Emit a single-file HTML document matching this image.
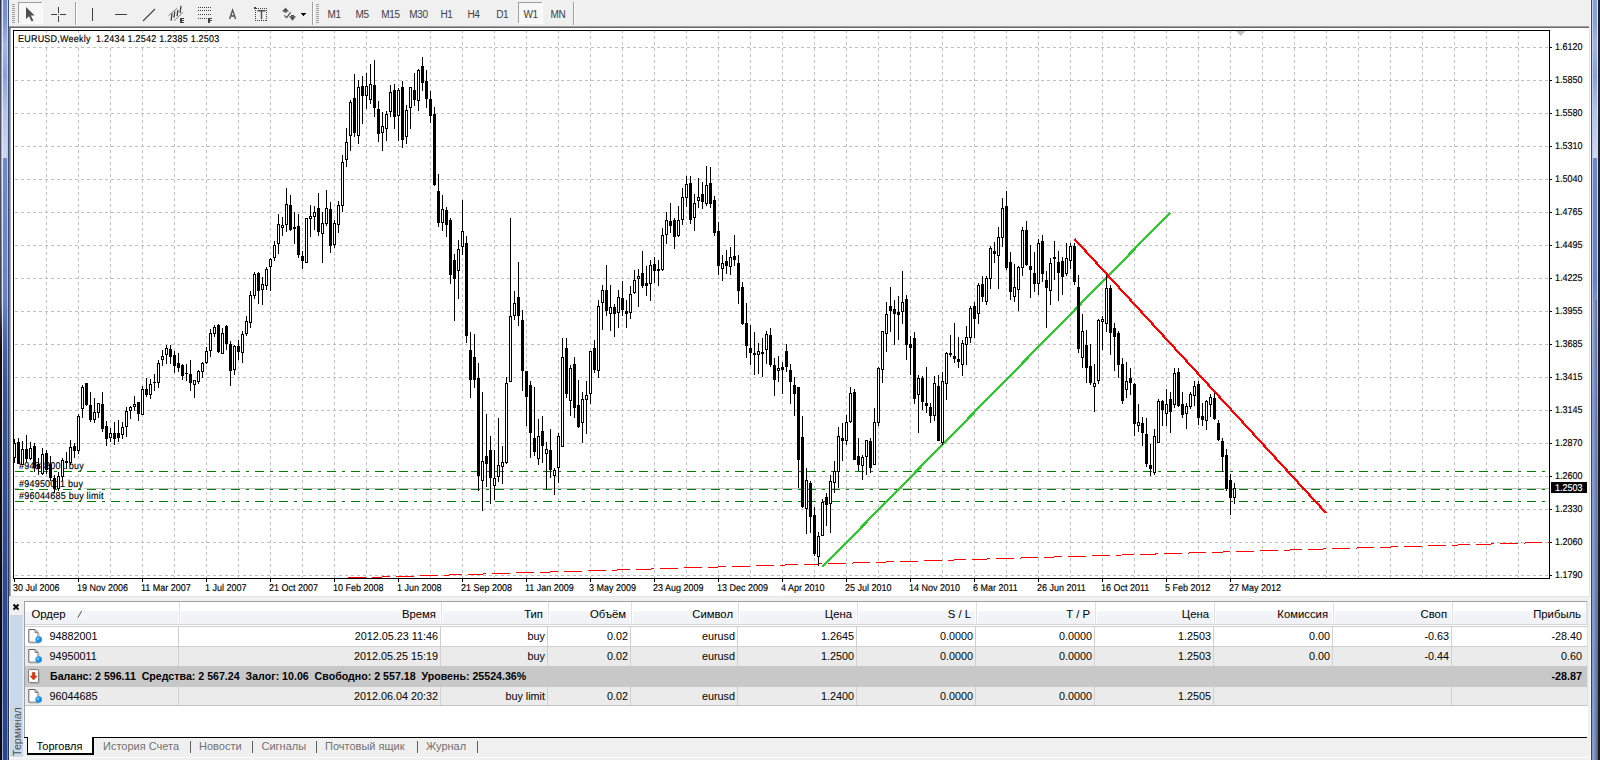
<!DOCTYPE html><html><head><meta charset="utf-8"><title>MT4</title><style>
*{box-sizing:border-box;margin:0;padding:0}
html,body{width:1600px;height:760px;overflow:hidden;background:#f0f0f0;font-family:"Liberation Sans",sans-serif;}
.a{position:absolute}
.t9{font-size:9.9px;line-height:10px;color:#000;white-space:pre;text-rendering:geometricPrecision;transform:translateY(1px) scaleX(0.909);transform-origin:0 0;-webkit-text-stroke:0.15px #000}
.t11{font-size:11px;line-height:13px;color:#404040;white-space:pre}
.tt{font-size:11px;line-height:13px;color:#000;white-space:pre}
.hd{font-size:11.3px;line-height:14px;color:#000;white-space:pre}
.c{font-size:10.8px;line-height:14px;color:#000;white-space:pre}
.r{text-align:right}
svg{position:absolute;left:0;top:0}
</style></head><body>
<div class="a" style="left:0;top:0;width:9px;height:760px;background:linear-gradient(#2a3252 0,#4a506a 60px,#50546a 160px,#3a3e52 300px,#0e0c0c 350px,#0a0a10 100%)"></div>
<div class="a" style="left:1px;top:0;width:1px;height:330px;background:linear-gradient(#7c86a8,#a8aec4 160px,#6c7084 300px,rgba(20,20,24,0))"></div>
<div class="a" style="left:2px;top:0;width:1px;height:760px;background:linear-gradient(#e8ecf8,#e4e8f4 400px,#8c9cd0 600px,#a0b0e0)"></div>
<div class="a" style="left:3px;top:0;width:4px;height:158px;background:linear-gradient(#728ace 0,#7d94d2 22px,#a4b6e2 45px,#8aa0d8 75px,#b4c2e6 110px,#cdd8ee 158px)"></div>
<div class="a" style="left:3px;top:158px;width:4px;height:602px;background:linear-gradient(#6f88c8 0,#6a82c4 140px,#4a64a8 185px,#3a5494 225px,#32498a 412px,#2c4488 100%)"></div>
<div class="a" style="left:7px;top:0;width:1px;height:760px;background:linear-gradient(#d0d8f0,#b4c2ea 300px,#8a9cd0 400px,#7088c0)"></div>
<div class="a" style="left:8px;top:0;width:1px;height:760px;background:linear-gradient(#405080,#344878 300px,#203058)"></div>
<div class="a" style="left:1590px;top:0;width:1px;height:760px;background:#fcfcfc"></div>
<div class="a" style="left:1591px;top:0;width:1px;height:760px;background:linear-gradient(#3a4468,#35466f 300px,#304070)"></div>
<div class="a" style="left:1592px;top:0;width:1px;height:760px;background:linear-gradient(#c4d0ea,#b4c2ea 300px,#8a9cd0 400px,#8498cc)"></div>
<div class="a" style="left:1593px;top:0;width:4px;height:158px;background:linear-gradient(#8aa0d8 0,#8aa0d8 22px,#a4b6e2 45px,#8aa0d8 75px,#b4c2e6 110px,#cdd8ee 158px)"></div>
<div class="a" style="left:1593px;top:158px;width:4px;height:602px;background:linear-gradient(#6f88c8 0,#6a82c4 140px,#6078bc 250px,#6c84c4 412px,#8098d0 100%)"></div>
<div class="a" style="left:1593px;top:300px;width:4px;height:460px;background:linear-gradient(90deg,#8ea1d0,#7e91c3 35%,#6e81b2 70%,#5e6e9a)"></div>
<div class="a" style="left:1593px;top:280px;width:4px;height:20px;background:linear-gradient(rgba(106,130,196,1),#7a90c8)"></div>
<div class="a" style="left:1597px;top:0;width:1px;height:760px;background:linear-gradient(#e0e6f4,#c8d2ec 300px,#7a8cb8 500px,#50608c)"></div>
<div class="a" style="left:1598px;top:0;width:2px;height:760px;background:linear-gradient(#1c2030,#1c2030 300px,#1c1c14)"></div>
<div class="a" style="left:9px;top:0;width:1581px;height:26px;background:#f0f0f0"></div>
<div class="a" style="left:9px;top:26px;width:1580px;height:1px;background:#a0a0a0"></div>
<div class="a" style="left:9px;top:27px;width:1580px;height:1px;background:#696969"></div>
<div class="a" style="left:9px;top:28px;width:1px;height:568px;background:#808080"></div>
<div class="a" style="left:10px;top:28px;width:1px;height:568px;background:#a8a8a8"></div>
<div class="a" style="left:11px;top:28px;width:1578px;height:568px;background:#fff"></div>
<div class="a" style="left:1589px;top:28px;width:1px;height:568px;background:#e3e3e3"></div>
<div class="a" style="left:9px;top:596px;width:1581px;height:1px;background:#e3e3e3"></div>
<svg width="1600" height="28" shape-rendering="crispEdges"><rect x="12" y="4" width="3" height="1" fill="#a0a0a0"/><rect x="12" y="6" width="3" height="1" fill="#a0a0a0"/><rect x="12" y="8" width="3" height="1" fill="#a0a0a0"/><rect x="12" y="10" width="3" height="1" fill="#a0a0a0"/><rect x="12" y="12" width="3" height="1" fill="#a0a0a0"/><rect x="12" y="14" width="3" height="1" fill="#a0a0a0"/><rect x="12" y="16" width="3" height="1" fill="#a0a0a0"/><rect x="12" y="18" width="3" height="1" fill="#a0a0a0"/><rect x="12" y="20" width="3" height="1" fill="#a0a0a0"/><rect x="12" y="22" width="3" height="1" fill="#a0a0a0"/><rect x="316" y="4" width="3" height="1" fill="#a0a0a0"/><rect x="316" y="6" width="3" height="1" fill="#a0a0a0"/><rect x="316" y="8" width="3" height="1" fill="#a0a0a0"/><rect x="316" y="10" width="3" height="1" fill="#a0a0a0"/><rect x="316" y="12" width="3" height="1" fill="#a0a0a0"/><rect x="316" y="14" width="3" height="1" fill="#a0a0a0"/><rect x="316" y="16" width="3" height="1" fill="#a0a0a0"/><rect x="316" y="18" width="3" height="1" fill="#a0a0a0"/><rect x="316" y="20" width="3" height="1" fill="#a0a0a0"/><rect x="316" y="22" width="3" height="1" fill="#a0a0a0"/><rect x="18" y="2" width="25" height="22" fill="#f8f8f8"/><rect x="18" y="2" width="25" height="1" fill="#a0a0a0"/><rect x="18" y="2" width="1" height="22" fill="#a0a0a0"/><rect x="18" y="23" width="25" height="1" fill="#ffffff"/><rect x="42" y="2" width="1" height="22" fill="#ffffff"/><rect x="518" y="2" width="25" height="22" fill="#f8f8f8"/><rect x="518" y="2" width="25" height="1" fill="#a0a0a0"/><rect x="518" y="2" width="1" height="22" fill="#a0a0a0"/><rect x="518" y="23" width="25" height="1" fill="#ffffff"/><rect x="542" y="2" width="1" height="22" fill="#ffffff"/><path d="M26 7 L26 19 L29 16.2 L31.6 21.4 L33.4 20.4 L30.8 15.4 L34.6 15.4 Z" fill="#505050" shape-rendering="auto"/><rect x="51" y="14" width="6" height="1" fill="#404040"/><rect x="60" y="14" width="6" height="1" fill="#404040"/><rect x="58" y="7" width="1" height="6" fill="#404040"/><rect x="58" y="16" width="1" height="6" fill="#404040"/><rect x="58" y="14" width="1" height="1" fill="#909090"/><rect x="75" y="2" width="1" height="23" fill="#a0a0a0"/><rect x="76" y="2" width="1" height="23" fill="#ffffff"/><rect x="312" y="2" width="1" height="23" fill="#a0a0a0"/><rect x="313" y="2" width="1" height="23" fill="#ffffff"/><rect x="573" y="2" width="1" height="23" fill="#a0a0a0"/><rect x="574" y="2" width="1" height="23" fill="#ffffff"/><rect x="92" y="8" width="1" height="13" fill="#404040"/><rect x="115" y="14" width="12" height="1" fill="#404040"/><path d="M143 21 L155 9" stroke="#404040" stroke-width="1.1" fill="none" shape-rendering="auto"/><g stroke="#808080" stroke-width="1" fill="none" shape-rendering="auto"><path d="M168.5 15.7 L177.3 8"/><path d="M174 20.9 L183.2 12"/></g><g stroke="#404040" stroke-width="1.3" fill="none" shape-rendering="auto"><path d="M172 13.3 L171.2 20.6"/><path d="M174.8 11.4 L174 17.6"/><path d="M177.9 9.8 L177.1 16.2"/><path d="M181 5.8 L180.1 13.2"/></g><path d="M180 18h4v1h-2v1h2v1h-2v1h2v1h-4z" fill="#404040"/><path d="M198 7.5 h14" stroke="#404040" stroke-width="1" stroke-dasharray="1 1" fill="none"/><path d="M198 10.5 h14" stroke="#404040" stroke-width="1" stroke-dasharray="1 1" fill="none"/><path d="M198 14.5 h14" stroke="#404040" stroke-width="1" stroke-dasharray="1 1" fill="none"/><path d="M198 18.5 h10" stroke="#404040" stroke-width="1" stroke-dasharray="1 1" fill="none"/><path d="M208 18h4v1h-2v1h1.5v1h-1.5v2h-2z" fill="#404040"/><path d="M229.6 19 L232.6 10 L235.6 19 M230.8 16 H234.4" stroke="#505050" stroke-width="1.3" fill="none" shape-rendering="auto"/><rect x="255.5" y="8.5" width="11" height="12" stroke="#404040" stroke-width="1" stroke-dasharray="1 1" fill="none"/><rect x="254" y="7" width="2" height="2" fill="#404040"/><path d="M257.5 10.7 H265.5 M261.5 10.7 V19.3" stroke="#505050" stroke-width="1.4" fill="none" shape-rendering="auto"/><g shape-rendering="auto"><path d="M282 11.5 L285.5 7.8 L289 11.5 Z" fill="#505050"/><rect x="284" y="11.3" width="3" height="1.3" fill="#505050"/><path d="M289 16.2 L296 16.2 L292.5 20.8 Z" fill="#505050"/><rect x="291" y="15" width="3" height="1.4" fill="#505050"/><path d="M284.3 15.3 L286.6 17.6 L290.7 12.3" stroke="#505050" stroke-width="1.2" fill="none"/></g><path d="M300.5 13 L306.5 13 L303.5 16 Z" fill="#000"/></svg>
<div class="a t11" style="left:327.5px;top:8px;font-size:10px;letter-spacing:-0.4px">M1</div>
<div class="a t11" style="left:355.5px;top:8px;font-size:10px;letter-spacing:-0.4px">M5</div>
<div class="a t11" style="left:381.3px;top:8px;font-size:10px;letter-spacing:-0.4px">M15</div>
<div class="a t11" style="left:409.3px;top:8px;font-size:10px;letter-spacing:-0.4px">M30</div>
<div class="a t11" style="left:440.5px;top:8px;font-size:10px;letter-spacing:-0.4px">H1</div>
<div class="a t11" style="left:467.5px;top:8px;font-size:10px;letter-spacing:-0.4px">H4</div>
<div class="a t11" style="left:496.3px;top:8px;font-size:10px;letter-spacing:-0.4px">D1</div>
<div class="a t11" style="left:523.5px;top:8px;font-size:10px;letter-spacing:-0.4px">W1</div>
<div class="a t11" style="left:550.5px;top:8px;font-size:10px;letter-spacing:-0.4px">MN</div>
<svg width="1600" height="600" shape-rendering="crispEdges"><path d="M15 47.5 H1549" stroke="#c0c0c0" stroke-dasharray="3 3" fill="none"/><path d="M15 80.5 H1549" stroke="#c0c0c0" stroke-dasharray="3 3" fill="none"/><path d="M15 113.5 H1549" stroke="#c0c0c0" stroke-dasharray="3 3" fill="none"/><path d="M15 146.5 H1549" stroke="#c0c0c0" stroke-dasharray="3 3" fill="none"/><path d="M15 179.5 H1549" stroke="#c0c0c0" stroke-dasharray="3 3" fill="none"/><path d="M15 212.5 H1549" stroke="#c0c0c0" stroke-dasharray="3 3" fill="none"/><path d="M15 245.5 H1549" stroke="#c0c0c0" stroke-dasharray="3 3" fill="none"/><path d="M15 278.5 H1549" stroke="#c0c0c0" stroke-dasharray="3 3" fill="none"/><path d="M15 311.5 H1549" stroke="#c0c0c0" stroke-dasharray="3 3" fill="none"/><path d="M15 344.5 H1549" stroke="#c0c0c0" stroke-dasharray="3 3" fill="none"/><path d="M15 377.5 H1549" stroke="#c0c0c0" stroke-dasharray="3 3" fill="none"/><path d="M15 410.5 H1549" stroke="#c0c0c0" stroke-dasharray="3 3" fill="none"/><path d="M15 443.5 H1549" stroke="#c0c0c0" stroke-dasharray="3 3" fill="none"/><path d="M15 476.5 H1549" stroke="#c0c0c0" stroke-dasharray="3 3" fill="none"/><path d="M15 509.5 H1549" stroke="#c0c0c0" stroke-dasharray="3 3" fill="none"/><path d="M15 542.5 H1549" stroke="#c0c0c0" stroke-dasharray="3 3" fill="none"/><path d="M15 575.5 H1549" stroke="#c0c0c0" stroke-dasharray="3 3" fill="none"/><path d="M46.5 30 V578" stroke="#c0c0c0" stroke-dasharray="3 3" fill="none"/><path d="M78.5 30 V578" stroke="#c0c0c0" stroke-dasharray="3 3" fill="none"/><path d="M110.5 30 V578" stroke="#c0c0c0" stroke-dasharray="3 3" fill="none"/><path d="M142.5 30 V578" stroke="#c0c0c0" stroke-dasharray="3 3" fill="none"/><path d="M174.5 30 V578" stroke="#c0c0c0" stroke-dasharray="3 3" fill="none"/><path d="M206.5 30 V578" stroke="#c0c0c0" stroke-dasharray="3 3" fill="none"/><path d="M238.5 30 V578" stroke="#c0c0c0" stroke-dasharray="3 3" fill="none"/><path d="M270.5 30 V578" stroke="#c0c0c0" stroke-dasharray="3 3" fill="none"/><path d="M302.5 30 V578" stroke="#c0c0c0" stroke-dasharray="3 3" fill="none"/><path d="M334.5 30 V578" stroke="#c0c0c0" stroke-dasharray="3 3" fill="none"/><path d="M366.5 30 V578" stroke="#c0c0c0" stroke-dasharray="3 3" fill="none"/><path d="M398.5 30 V578" stroke="#c0c0c0" stroke-dasharray="3 3" fill="none"/><path d="M430.5 30 V578" stroke="#c0c0c0" stroke-dasharray="3 3" fill="none"/><path d="M462.5 30 V578" stroke="#c0c0c0" stroke-dasharray="3 3" fill="none"/><path d="M494.5 30 V578" stroke="#c0c0c0" stroke-dasharray="3 3" fill="none"/><path d="M526.5 30 V578" stroke="#c0c0c0" stroke-dasharray="3 3" fill="none"/><path d="M558.5 30 V578" stroke="#c0c0c0" stroke-dasharray="3 3" fill="none"/><path d="M590.5 30 V578" stroke="#c0c0c0" stroke-dasharray="3 3" fill="none"/><path d="M622.5 30 V578" stroke="#c0c0c0" stroke-dasharray="3 3" fill="none"/><path d="M654.5 30 V578" stroke="#c0c0c0" stroke-dasharray="3 3" fill="none"/><path d="M686.5 30 V578" stroke="#c0c0c0" stroke-dasharray="3 3" fill="none"/><path d="M718.5 30 V578" stroke="#c0c0c0" stroke-dasharray="3 3" fill="none"/><path d="M750.5 30 V578" stroke="#c0c0c0" stroke-dasharray="3 3" fill="none"/><path d="M782.5 30 V578" stroke="#c0c0c0" stroke-dasharray="3 3" fill="none"/><path d="M814.5 30 V578" stroke="#c0c0c0" stroke-dasharray="3 3" fill="none"/><path d="M846.5 30 V578" stroke="#c0c0c0" stroke-dasharray="3 3" fill="none"/><path d="M878.5 30 V578" stroke="#c0c0c0" stroke-dasharray="3 3" fill="none"/><path d="M910.5 30 V578" stroke="#c0c0c0" stroke-dasharray="3 3" fill="none"/><path d="M942.5 30 V578" stroke="#c0c0c0" stroke-dasharray="3 3" fill="none"/><path d="M974.5 30 V578" stroke="#c0c0c0" stroke-dasharray="3 3" fill="none"/><path d="M1006.5 30 V578" stroke="#c0c0c0" stroke-dasharray="3 3" fill="none"/><path d="M1038.5 30 V578" stroke="#c0c0c0" stroke-dasharray="3 3" fill="none"/><path d="M1070.5 30 V578" stroke="#c0c0c0" stroke-dasharray="3 3" fill="none"/><path d="M1102.5 30 V578" stroke="#c0c0c0" stroke-dasharray="3 3" fill="none"/><path d="M1134.5 30 V578" stroke="#c0c0c0" stroke-dasharray="3 3" fill="none"/><path d="M1166.5 30 V578" stroke="#c0c0c0" stroke-dasharray="3 3" fill="none"/><path d="M1198.5 30 V578" stroke="#c0c0c0" stroke-dasharray="3 3" fill="none"/><path d="M1230.5 30 V578" stroke="#c0c0c0" stroke-dasharray="3 3" fill="none"/><path d="M1262.5 30 V578" stroke="#c0c0c0" stroke-dasharray="3 3" fill="none"/><path d="M1294.5 30 V578" stroke="#c0c0c0" stroke-dasharray="3 3" fill="none"/><path d="M1326.5 30 V578" stroke="#c0c0c0" stroke-dasharray="3 3" fill="none"/><path d="M1358.5 30 V578" stroke="#c0c0c0" stroke-dasharray="3 3" fill="none"/><path d="M1390.5 30 V578" stroke="#c0c0c0" stroke-dasharray="3 3" fill="none"/><path d="M1422.5 30 V578" stroke="#c0c0c0" stroke-dasharray="3 3" fill="none"/><path d="M1454.5 30 V578" stroke="#c0c0c0" stroke-dasharray="3 3" fill="none"/><path d="M1486.5 30 V578" stroke="#c0c0c0" stroke-dasharray="3 3" fill="none"/><path d="M1518.5 30 V578" stroke="#c0c0c0" stroke-dasharray="3 3" fill="none"/><rect x="14" y="488" width="1535" height="1" fill="#c0c0c0"/></svg>
<div class="a t9" style="left:19.1px;top:461px;letter-spacing:0.25px;background:#fff">#94882001 buy</div>
<div class="a t9" style="left:19.1px;top:479px;letter-spacing:0.25px;background:#fff">#94950011 buy</div>
<div class="a t9" style="left:19.1px;top:491px;letter-spacing:0.25px;background:#fff">#96044685 buy limit</div>
<svg width="1600" height="600" shape-rendering="crispEdges"><path d="M15 471.5 H1549" stroke="#008000" stroke-dasharray="9 6 3 6" fill="none"/><path d="M15 489.5 H1549" stroke="#008000" stroke-dasharray="9 6 3 6" fill="none"/><path d="M15 501.5 H1549" stroke="#008000" stroke-dasharray="9 6 3 6" fill="none"/><path d="M348.5 578 L1549 542.3" stroke="#ff0000" stroke-width="1" stroke-dasharray="18 6" fill="none"/><path d="M822.5 566.8 L1170 212.8" stroke="#2cc82c" stroke-width="2.2" fill="none"/><path d="M1074.5 239 L1326 513" stroke="#ff0000" stroke-width="2.2" fill="none"/><path d="M14 439h1v24h-1zM13 443h3v15h-3zM18 438h1v26h-1zM17 442h3v22h-3zM22 441h1v24h-1zM21 449h3v16h-3zM26 435h1v27h-1zM25 449h3v10h-3zM30 442h1v18h-1zM29 448h3v11h-3zM34 443h1v29h-1zM33 446h3v22h-3zM38 458h1v17h-1zM37 464h3v5h-3zM42 448h1v27h-1zM41 454h3v20h-3zM46 450h1v24h-1zM45 453h3v17h-3zM50 456h1v25h-1zM49 464h3v14h-3zM54 475h1v18h-1zM53 478h3v11h-3zM58 472h1v19h-1zM57 476h3v13h-3zM62 458h1v23h-1zM61 460h3v17h-3zM66 452h1v17h-1zM65 461h3v2h-3zM70 440h1v25h-1zM69 447h3v16h-3zM74 443h1v15h-1zM73 446h3v5h-3zM78 414h1v40h-1zM77 416h3v35h-3zM82 385h1v33h-1zM81 387h3v22h-3zM86 383h1v23h-1zM85 383h3v22h-3zM90 392h1v30h-1zM89 405h3v15h-3zM94 398h1v25h-1zM93 412h3v8h-3zM98 403h1v15h-1zM97 403h3v10h-3zM102 392h1v40h-1zM101 404h3v25h-3zM106 421h1v25h-1zM105 426h3v13h-3zM110 428h1v14h-1zM109 433h3v5h-3zM114 422h1v23h-1zM113 433h3v6h-3zM118 420h1v22h-1zM117 433h3v5h-3zM122 422h1v17h-1zM121 427h3v8h-3zM126 407h1v30h-1zM125 411h3v16h-3zM130 406h1v13h-1zM129 407h3v4h-3zM134 396h1v15h-1zM133 404h3v3h-3zM138 402h1v19h-1zM137 402h3v12h-3zM142 386h1v29h-1zM141 389h3v26h-3zM146 378h1v19h-1zM145 389h3v6h-3zM150 379h1v20h-1zM149 384h3v11h-3zM154 374h1v17h-1zM153 382h3v1h-3zM158 360h1v28h-1zM157 363h3v20h-3zM162 350h1v16h-1zM161 356h3v4h-3zM166 345h1v19h-1zM165 348h3v7h-3zM170 345h1v19h-1zM169 349h3v8h-3zM174 351h1v22h-1zM173 355h3v11h-3zM178 353h1v19h-1zM177 363h3v5h-3zM182 364h1v16h-1zM181 365h3v11h-3zM186 364h1v17h-1zM185 373h3v1h-3zM190 360h1v31h-1zM189 374h3v9h-3zM194 380h1v18h-1zM193 380h3v5h-3zM198 370h1v14h-1zM197 371h3v11h-3zM202 362h1v16h-1zM201 363h3v9h-3zM206 347h1v17h-1zM205 351h3v12h-3zM210 329h1v28h-1zM209 333h3v18h-3zM214 325h1v12h-1zM213 327h3v7h-3zM218 324h1v29h-1zM217 325h3v27h-3zM222 328h1v26h-1zM221 333h3v21h-3zM226 325h1v25h-1zM225 326h3v18h-3zM230 341h1v45h-1zM229 344h3v27h-3zM234 345h1v30h-1zM233 346h3v24h-3zM238 340h1v20h-1zM237 346h3v6h-3zM242 331h1v32h-1zM241 334h3v19h-3zM246 316h1v20h-1zM245 321h3v13h-3zM250 291h1v37h-1zM249 295h3v28h-3zM254 272h1v27h-1zM253 274h3v22h-3zM258 272h1v32h-1zM257 273h3v18h-3zM262 277h1v28h-1zM261 284h3v6h-3zM266 267h1v23h-1zM265 269h3v17h-3zM270 258h1v33h-1zM269 259h3v8h-3zM274 241h1v20h-1zM273 245h3v13h-3zM278 214h1v40h-1zM277 224h3v20h-3zM282 217h1v19h-1zM281 225h3v3h-3zM286 188h1v44h-1zM285 204h3v21h-3zM290 195h1v36h-1zM289 205h3v25h-3zM294 212h1v32h-1zM293 227h3v2h-3zM298 214h1v44h-1zM297 226h3v29h-3zM302 251h1v18h-1zM301 256h3v5h-3zM306 218h1v45h-1zM305 218h3v45h-3zM310 205h1v32h-1zM309 216h3v3h-3zM314 206h1v24h-1zM313 212h3v5h-3zM318 193h1v43h-1zM317 208h3v24h-3zM322 212h1v51h-1zM321 223h3v11h-3zM326 190h1v36h-1zM325 208h3v16h-3zM330 202h1v51h-1zM329 209h3v37h-3zM334 220h1v28h-1zM333 223h3v22h-3zM338 201h1v32h-1zM337 205h3v20h-3zM342 155h1v57h-1zM341 162h3v44h-3zM346 128h1v39h-1zM345 142h3v18h-3zM350 100h1v51h-1zM349 102h3v34h-3zM354 74h1v63h-1zM353 98h3v35h-3zM358 80h1v64h-1zM357 87h3v49h-3zM362 76h1v48h-1zM361 86h3v10h-3zM366 73h1v36h-1zM365 86h3v10h-3zM370 64h1v40h-1zM369 84h3v16h-3zM374 60h1v57h-1zM373 85h3v23h-3zM378 101h1v41h-1zM377 109h3v25h-3zM382 112h1v39h-1zM381 126h3v7h-3zM386 111h1v30h-1zM385 114h3v15h-3zM390 85h1v32h-1zM389 92h3v20h-3zM394 84h1v45h-1zM393 90h3v27h-3zM398 88h1v53h-1zM397 90h3v26h-3zM402 81h1v67h-1zM401 87h3v53h-3zM406 105h1v39h-1zM405 110h3v27h-3zM410 87h1v42h-1zM409 87h3v21h-3zM414 73h1v33h-1zM413 90h3v10h-3zM418 69h1v42h-1zM417 70h3v31h-3zM422 57h1v34h-1zM421 66h3v17h-3zM426 70h1v38h-1zM425 81h3v18h-3zM430 91h1v32h-1zM429 99h3v17h-3zM434 107h1v79h-1zM433 114h3v71h-3zM438 174h1v53h-1zM437 191h3v32h-3zM442 195h1v36h-1zM441 209h3v14h-3zM446 207h1v30h-1zM445 210h3v15h-3zM450 218h1v66h-1zM449 220h3v55h-3zM454 254h1v67h-1zM453 260h3v19h-3zM458 240h1v59h-1zM457 249h3v22h-3zM462 200h1v55h-1zM461 231h3v16h-3zM466 236h1v107h-1zM465 243h3v93h-3zM470 332h1v66h-1zM469 350h3v30h-3zM474 334h1v54h-1zM473 357h3v23h-3zM478 363h1v128h-1zM477 378h3v98h-3zM482 392h1v119h-1zM481 461h3v20h-3zM486 414h1v73h-1zM485 456h3v8h-3zM490 436h1v68h-1zM489 450h3v28h-3zM494 450h1v50h-1zM493 478h3v8h-3zM498 418h1v64h-1zM497 465h3v12h-3zM502 446h1v38h-1zM501 462h3v5h-3zM506 377h1v87h-1zM505 383h3v80h-3zM510 218h1v164h-1zM509 316h3v66h-3zM514 291h1v29h-1zM513 303h3v13h-3zM518 262h1v64h-1zM517 297h3v19h-3zM522 310h1v81h-1zM521 320h3v51h-3zM526 371h1v55h-1zM525 371h3v26h-3zM530 381h1v77h-1zM529 385h3v48h-3zM534 387h1v69h-1zM533 438h3v14h-3zM538 419h1v46h-1zM537 436h3v23h-3zM542 416h1v47h-1zM541 431h3v15h-3zM546 442h1v47h-1zM545 449h3v5h-3zM550 429h1v49h-1zM549 450h3v20h-3zM554 468h1v27h-1zM553 470h3v6h-3zM558 433h1v50h-1zM557 436h3v32h-3zM562 338h1v109h-1zM561 357h3v90h-3zM566 338h1v60h-1zM565 348h3v46h-3zM570 365h1v51h-1zM569 368h3v33h-3zM574 357h1v61h-1zM573 364h3v44h-3zM578 380h1v48h-1zM577 405h3v22h-3zM582 392h1v51h-1zM581 399h3v24h-3zM586 381h1v53h-1zM585 395h3v5h-3zM590 351h1v53h-1zM589 351h3v43h-3zM594 340h1v33h-1zM593 348h3v22h-3zM598 300h1v78h-1zM597 306h3v65h-3zM602 285h1v45h-1zM601 290h3v13h-3zM606 265h1v51h-1zM605 290h3v21h-3zM610 285h1v46h-1zM609 307h3v7h-3zM614 304h1v33h-1zM613 307h3v7h-3zM618 290h1v38h-1zM617 297h3v16h-3zM622 281h1v35h-1zM621 298h3v12h-3zM626 300h1v28h-1zM625 311h3v3h-3zM630 286h1v33h-1zM629 294h3v19h-3zM634 270h1v24h-1zM633 280h3v13h-3zM638 269h1v38h-1zM637 276h3v3h-3zM642 251h1v37h-1zM641 273h3v13h-3zM646 266h1v30h-1zM645 283h3v3h-3zM650 260h1v41h-1zM649 265h3v19h-3zM654 257h1v26h-1zM653 264h3v7h-3zM658 260h1v26h-1zM657 269h3v2h-3zM662 228h1v43h-1zM661 235h3v35h-3zM666 212h1v32h-1zM665 220h3v15h-3zM670 203h1v30h-1zM669 221h3v5h-3zM674 218h1v31h-1zM673 220h3v17h-3zM678 206h1v31h-1zM677 220h3v16h-3zM682 188h1v37h-1zM681 197h3v23h-3zM686 176h1v31h-1zM685 184h3v14h-3zM690 176h1v48h-1zM689 183h3v37h-3zM694 194h1v37h-1zM693 203h3v15h-3zM698 178h1v30h-1zM697 197h3v4h-3zM702 182h1v27h-1zM701 194h3v8h-3zM706 166h1v40h-1zM705 185h3v19h-3zM710 167h1v41h-1zM709 183h3v21h-3zM714 196h1v40h-1zM713 200h3v33h-3zM718 222h1v53h-1zM717 231h3v35h-3zM722 255h1v26h-1zM721 263h3v6h-3zM726 250h1v24h-1zM725 261h3v5h-3zM730 247h1v28h-1zM729 257h3v10h-3zM734 235h1v31h-1zM733 256h3v4h-3zM738 255h1v49h-1zM737 263h3v28h-3zM742 282h1v43h-1zM741 287h3v37h-3zM746 303h1v55h-1zM745 323h3v23h-3zM750 325h1v40h-1zM749 348h3v5h-3zM754 332h1v43h-1zM753 353h3v2h-3zM758 343h1v31h-1zM757 351h3v4h-3zM762 338h1v39h-1zM761 352h3v2h-3zM766 331h1v33h-1zM765 334h3v16h-3zM770 328h1v39h-1zM769 335h3v30h-3zM774 358h1v38h-1zM773 365h3v15h-3zM778 356h1v26h-1zM777 368h3v3h-3zM782 362h1v32h-1zM781 367h3v3h-3zM786 344h1v28h-1zM785 351h3v16h-3zM790 364h1v40h-1zM789 370h3v12h-3zM794 377h1v39h-1zM793 385h3v9h-3zM798 387h1v101h-1zM797 387h3v73h-3zM802 416h1v92h-1zM801 437h3v70h-3zM806 468h1v66h-1zM805 480h3v29h-3zM810 481h1v52h-1zM809 483h3v34h-3zM814 507h1v49h-1zM813 515h3v39h-3zM818 532h1v34h-1zM817 536h3v21h-3zM822 499h1v37h-1zM821 502h3v34h-3zM826 493h1v33h-1zM825 497h3v8h-3zM830 475h1v58h-1zM829 481h3v23h-3zM834 461h1v32h-1zM833 471h3v12h-3zM838 427h1v61h-1zM837 436h3v36h-3zM842 423h1v38h-1zM841 438h3v3h-3zM846 415h1v30h-1zM845 422h3v19h-3zM850 387h1v36h-1zM849 393h3v29h-3zM854 389h1v71h-1zM853 392h3v68h-3zM858 438h1v33h-1zM857 456h3v9h-3zM862 455h1v25h-1zM861 457h3v9h-3zM866 440h1v35h-1zM865 440h3v17h-3zM870 438h1v35h-1zM869 441h3v27h-3zM874 408h1v57h-1zM873 422h3v43h-3zM878 367h1v59h-1zM877 368h3v55h-3zM882 331h1v52h-1zM881 331h3v39h-3zM886 302h1v50h-1zM885 314h3v20h-3zM890 287h1v45h-1zM889 306h3v5h-3zM894 300h1v45h-1zM893 309h3v5h-3zM898 296h1v44h-1zM897 312h3v3h-3zM902 271h1v53h-1zM901 302h3v10h-3zM906 295h1v65h-1zM905 299h3v46h-3zM910 336h1v39h-1zM909 344h3v4h-3zM914 332h1v72h-1zM913 338h3v61h-3zM918 375h1v58h-1zM917 378h3v17h-3zM922 376h1v34h-1zM921 378h3v24h-3zM926 367h1v46h-1zM925 403h3v3h-3zM930 403h1v20h-1zM929 407h3v9h-3zM934 376h1v45h-1zM933 383h3v33h-3zM938 375h1v66h-1zM937 386h3v55h-3zM942 372h1v73h-1zM941 381h3v62h-3zM946 352h1v48h-1zM945 353h3v31h-3zM950 335h1v22h-1zM949 353h3v2h-3zM954 323h1v40h-1zM953 356h3v3h-3zM958 337h1v31h-1zM957 359h3v3h-3zM962 340h1v36h-1zM961 343h3v22h-3zM966 326h1v39h-1zM965 337h3v8h-3zM970 306h1v37h-1zM969 308h3v30h-3zM974 302h1v36h-1zM973 306h3v13h-3zM978 283h1v41h-1zM977 285h3v29h-3zM982 276h1v26h-1zM981 284h3v13h-3zM986 276h1v29h-1zM985 278h3v24h-3zM990 246h1v43h-1zM989 248h3v31h-3zM994 242h1v21h-1zM993 251h3v3h-3zM998 227h1v62h-1zM997 237h3v19h-3zM1002 198h1v49h-1zM1001 208h3v30h-3zM1006 191h1v79h-1zM1005 206h3v62h-3zM1010 252h1v48h-1zM1009 262h3v30h-3zM1014 264h1v38h-1zM1013 287h3v10h-3zM1018 266h1v45h-1zM1017 267h3v23h-3zM1022 227h1v49h-1zM1021 230h3v38h-3zM1026 221h1v45h-1zM1025 230h3v35h-3zM1030 245h1v53h-1zM1029 266h3v4h-3zM1034 252h1v40h-1zM1033 273h3v11h-3zM1038 239h1v56h-1zM1037 243h3v41h-3zM1042 235h1v47h-1zM1041 241h3v33h-3zM1046 271h1v57h-1zM1045 280h3v8h-3zM1050 258h1v47h-1zM1049 263h3v28h-3zM1054 241h1v39h-1zM1053 257h3v2h-3zM1058 251h1v50h-1zM1057 262h3v11h-3zM1062 257h1v38h-1zM1061 261h3v16h-3zM1066 243h1v33h-1zM1065 258h3v16h-3zM1070 243h1v26h-1zM1069 246h3v15h-3zM1074 243h1v42h-1zM1073 246h3v36h-3zM1078 275h1v78h-1zM1077 287h3v62h-3zM1082 314h1v54h-1zM1081 331h3v27h-3zM1086 330h1v53h-1zM1085 345h3v23h-3zM1090 344h1v41h-1zM1089 366h3v17h-3zM1094 364h1v48h-1zM1093 383h3v4h-3zM1098 319h1v65h-1zM1097 320h3v61h-3zM1102 316h1v34h-1zM1101 319h3v3h-3zM1106 275h1v57h-1zM1105 288h3v36h-3zM1110 285h1v70h-1zM1109 288h3v45h-3zM1114 323h1v48h-1zM1113 328h3v9h-3zM1118 331h1v47h-1zM1117 333h3v32h-3zM1122 358h1v46h-1zM1121 364h3v37h-3zM1126 362h1v36h-1zM1125 381h3v9h-3zM1130 368h1v27h-1zM1129 378h3v5h-3zM1134 383h1v53h-1zM1133 384h3v40h-3zM1138 404h1v28h-1zM1137 422h3v4h-3zM1142 417h1v29h-1zM1141 423h3v10h-3zM1146 418h1v49h-1zM1145 434h3v30h-3zM1150 444h1v32h-1zM1149 465h3v4h-3zM1154 429h1v46h-1zM1153 436h3v37h-3zM1158 399h1v44h-1zM1157 401h3v42h-3zM1162 400h1v26h-1zM1161 401h3v9h-3zM1166 389h1v37h-1zM1165 404h3v10h-3zM1170 392h1v41h-1zM1169 399h3v13h-3zM1174 368h1v40h-1zM1173 373h3v32h-3zM1178 368h1v39h-1zM1177 372h3v34h-3zM1182 392h1v26h-1zM1181 404h3v11h-3zM1186 403h1v26h-1zM1185 406h3v8h-3zM1190 392h1v17h-1zM1189 394h3v13h-3zM1194 381h1v25h-1zM1193 386h3v10h-3zM1198 381h1v44h-1zM1197 384h3v34h-3zM1202 403h1v23h-1zM1201 416h3v4h-3zM1206 400h1v30h-1zM1205 401h3v20h-3zM1210 394h1v23h-1zM1209 397h3v8h-3zM1214 393h1v27h-1zM1213 398h3v21h-3zM1218 420h1v21h-1zM1217 423h3v17h-3zM1222 438h1v34h-1zM1221 441h3v16h-3zM1226 449h1v42h-1zM1225 455h3v34h-3zM1230 474h1v41h-1zM1229 480h3v18h-3zM1234 483h1v21h-1zM1233 488h3v10h-3z" fill="#000"/><path d="M14 444h1v13h-1zM22 450h1v14h-1zM30 449h1v9h-1zM42 455h1v18h-1zM58 477h1v11h-1zM62 461h1v15h-1zM70 448h1v14h-1zM78 417h1v33h-1zM82 388h1v20h-1zM94 413h1v6h-1zM98 404h1v8h-1zM110 434h1v3h-1zM122 428h1v6h-1zM126 412h1v14h-1zM130 408h1v2h-1zM134 405h1v1h-1zM142 390h1v24h-1zM150 385h1v9h-1zM158 364h1v18h-1zM162 357h1v2h-1zM166 349h1v5h-1zM194 381h1v3h-1zM198 372h1v9h-1zM202 364h1v7h-1zM206 352h1v10h-1zM210 334h1v16h-1zM214 328h1v5h-1zM222 334h1v19h-1zM234 347h1v22h-1zM242 335h1v17h-1zM246 322h1v11h-1zM250 296h1v26h-1zM254 275h1v20h-1zM262 285h1v4h-1zM266 270h1v15h-1zM270 260h1v6h-1zM274 246h1v11h-1zM278 225h1v18h-1zM282 226h1v1h-1zM286 205h1v19h-1zM306 219h1v43h-1zM310 217h1v1h-1zM314 213h1v3h-1zM322 224h1v9h-1zM326 209h1v14h-1zM334 224h1v20h-1zM338 206h1v18h-1zM342 163h1v42h-1zM346 143h1v16h-1zM350 103h1v32h-1zM358 88h1v47h-1zM366 87h1v8h-1zM370 85h1v14h-1zM382 127h1v5h-1zM386 115h1v13h-1zM390 93h1v18h-1zM398 91h1v24h-1zM406 111h1v25h-1zM410 88h1v19h-1zM418 71h1v29h-1zM442 210h1v12h-1zM458 250h1v20h-1zM462 232h1v14h-1zM482 462h1v18h-1zM494 479h1v6h-1zM498 466h1v10h-1zM502 463h1v3h-1zM506 384h1v78h-1zM510 317h1v64h-1zM514 304h1v11h-1zM538 437h1v21h-1zM546 450h1v3h-1zM554 471h1v4h-1zM558 437h1v30h-1zM562 358h1v88h-1zM570 369h1v31h-1zM582 400h1v22h-1zM586 396h1v3h-1zM590 352h1v41h-1zM598 307h1v63h-1zM602 291h1v11h-1zM610 308h1v5h-1zM618 298h1v14h-1zM630 295h1v17h-1zM634 281h1v11h-1zM638 277h1v1h-1zM650 266h1v17h-1zM662 236h1v33h-1zM666 221h1v13h-1zM678 221h1v14h-1zM682 198h1v21h-1zM686 185h1v12h-1zM694 204h1v13h-1zM698 198h1v2h-1zM706 186h1v17h-1zM722 264h1v4h-1zM730 258h1v8h-1zM758 352h1v2h-1zM766 335h1v14h-1zM778 369h1v1h-1zM806 481h1v27h-1zM818 537h1v19h-1zM822 503h1v32h-1zM830 482h1v21h-1zM834 472h1v10h-1zM838 437h1v34h-1zM846 423h1v17h-1zM850 394h1v27h-1zM862 458h1v7h-1zM866 441h1v15h-1zM874 423h1v41h-1zM878 369h1v53h-1zM882 332h1v37h-1zM886 315h1v18h-1zM902 303h1v8h-1zM918 379h1v15h-1zM934 384h1v31h-1zM942 382h1v60h-1zM946 354h1v29h-1zM962 344h1v20h-1zM966 338h1v6h-1zM970 309h1v28h-1zM978 286h1v27h-1zM986 279h1v22h-1zM990 249h1v29h-1zM998 238h1v17h-1zM1002 209h1v28h-1zM1014 288h1v8h-1zM1018 268h1v21h-1zM1022 231h1v36h-1zM1038 244h1v39h-1zM1050 264h1v26h-1zM1066 259h1v14h-1zM1070 247h1v13h-1zM1082 332h1v25h-1zM1094 384h1v2h-1zM1098 321h1v59h-1zM1102 320h1v1h-1zM1106 289h1v34h-1zM1126 382h1v7h-1zM1138 423h1v2h-1zM1154 437h1v35h-1zM1158 402h1v40h-1zM1166 405h1v8h-1zM1174 374h1v30h-1zM1186 407h1v6h-1zM1190 395h1v11h-1zM1194 387h1v8h-1zM1206 402h1v18h-1zM1210 398h1v6h-1zM1234 489h1v8h-1z" fill="#fff"/><path d="M13.5 30.5 H1549.5 V578.5 H13.5 Z" stroke="#000" fill="none"/><rect x="1550" y="47" width="2" height="1" fill="#000"/><rect x="1550" y="80" width="2" height="1" fill="#000"/><rect x="1550" y="113" width="2" height="1" fill="#000"/><rect x="1550" y="146" width="2" height="1" fill="#000"/><rect x="1550" y="179" width="2" height="1" fill="#000"/><rect x="1550" y="212" width="2" height="1" fill="#000"/><rect x="1550" y="245" width="2" height="1" fill="#000"/><rect x="1550" y="278" width="2" height="1" fill="#000"/><rect x="1550" y="311" width="2" height="1" fill="#000"/><rect x="1550" y="344" width="2" height="1" fill="#000"/><rect x="1550" y="377" width="2" height="1" fill="#000"/><rect x="1550" y="410" width="2" height="1" fill="#000"/><rect x="1550" y="443" width="2" height="1" fill="#000"/><rect x="1550" y="476" width="2" height="1" fill="#000"/><rect x="1550" y="509" width="2" height="1" fill="#000"/><rect x="1550" y="542" width="2" height="1" fill="#000"/><rect x="1550" y="575" width="2" height="1" fill="#000"/><rect x="14" y="579" width="1" height="3" fill="#000"/><rect x="78" y="579" width="1" height="3" fill="#000"/><rect x="142" y="579" width="1" height="3" fill="#000"/><rect x="206" y="579" width="1" height="3" fill="#000"/><rect x="270" y="579" width="1" height="3" fill="#000"/><rect x="334" y="579" width="1" height="3" fill="#000"/><rect x="398" y="579" width="1" height="3" fill="#000"/><rect x="462" y="579" width="1" height="3" fill="#000"/><rect x="526" y="579" width="1" height="3" fill="#000"/><rect x="590" y="579" width="1" height="3" fill="#000"/><rect x="654" y="579" width="1" height="3" fill="#000"/><rect x="718" y="579" width="1" height="3" fill="#000"/><rect x="782" y="579" width="1" height="3" fill="#000"/><rect x="846" y="579" width="1" height="3" fill="#000"/><rect x="910" y="579" width="1" height="3" fill="#000"/><rect x="974" y="579" width="1" height="3" fill="#000"/><rect x="1038" y="579" width="1" height="3" fill="#000"/><rect x="1102" y="579" width="1" height="3" fill="#000"/><rect x="1166" y="579" width="1" height="3" fill="#000"/><rect x="1230" y="579" width="1" height="3" fill="#000"/><path d="M1236 31 L1245.5 31 L1240.7 36 Z" fill="#c0c0c0" shape-rendering="auto"/><rect x="1551" y="482" width="36" height="11" fill="#000"/></svg>
<div class="a t9" style="left:18.1px;top:34px;letter-spacing:0.25px;background:#fff">EURUSD,Weekly  1.2434 1.2542 1.2385 1.2503</div>
<div class="a t9" style="left:1555.1px;top:42px">1.6120</div>
<div class="a t9" style="left:1555.1px;top:75px">1.5850</div>
<div class="a t9" style="left:1555.1px;top:108px">1.5580</div>
<div class="a t9" style="left:1555.1px;top:141px">1.5310</div>
<div class="a t9" style="left:1555.1px;top:174px">1.5040</div>
<div class="a t9" style="left:1555.1px;top:207px">1.4765</div>
<div class="a t9" style="left:1555.1px;top:240px">1.4495</div>
<div class="a t9" style="left:1555.1px;top:273px">1.4225</div>
<div class="a t9" style="left:1555.1px;top:306px">1.3955</div>
<div class="a t9" style="left:1555.1px;top:339px">1.3685</div>
<div class="a t9" style="left:1555.1px;top:372px">1.3415</div>
<div class="a t9" style="left:1555.1px;top:405px">1.3145</div>
<div class="a t9" style="left:1555.1px;top:438px">1.2870</div>
<div class="a t9" style="left:1555.1px;top:471px">1.2600</div>
<div class="a t9" style="left:1555.1px;top:504px">1.2330</div>
<div class="a t9" style="left:1555.1px;top:537px">1.2060</div>
<div class="a t9" style="left:1555.1px;top:570px">1.1790</div>
<div class="a t9" style="left:1555.1px;top:483px;color:#fff;-webkit-text-stroke:0.15px #fff">1.2503</div>
<div class="a t9" style="left:12.6px;top:583px">30 Jul 2006</div>
<div class="a t9" style="left:76.6px;top:583px">19 Nov 2006</div>
<div class="a t9" style="left:140.6px;top:583px">11 Mar 2007</div>
<div class="a t9" style="left:204.6px;top:583px">1 Jul 2007</div>
<div class="a t9" style="left:268.6px;top:583px">21 Oct 2007</div>
<div class="a t9" style="left:332.6px;top:583px">10 Feb 2008</div>
<div class="a t9" style="left:396.6px;top:583px">1 Jun 2008</div>
<div class="a t9" style="left:460.6px;top:583px">21 Sep 2008</div>
<div class="a t9" style="left:524.6px;top:583px">11 Jan 2009</div>
<div class="a t9" style="left:588.6px;top:583px">3 May 2009</div>
<div class="a t9" style="left:652.6px;top:583px">23 Aug 2009</div>
<div class="a t9" style="left:716.6px;top:583px">13 Dec 2009</div>
<div class="a t9" style="left:780.6px;top:583px">4 Apr 2010</div>
<div class="a t9" style="left:844.6px;top:583px">25 Jul 2010</div>
<div class="a t9" style="left:908.6px;top:583px">14 Nov 2010</div>
<div class="a t9" style="left:972.6px;top:583px">6 Mar 2011</div>
<div class="a t9" style="left:1036.6px;top:583px">26 Jun 2011</div>
<div class="a t9" style="left:1100.6px;top:583px">16 Oct 2011</div>
<div class="a t9" style="left:1164.6px;top:583px">5 Feb 2012</div>
<div class="a t9" style="left:1228.6px;top:583px">27 May 2012</div>
<div class="a" style="left:10px;top:615px;width:13px;height:142px;background:#c9d9ea"></div>
<div class="a" style="left:12px;top:603px;font-size:11px;line-height:8px;font-weight:bold;color:#000"><svg width="8" height="8" style="position:static"><path d="M1.5 1.5 L6.5 6.5 M6.5 1.5 L1.5 6.5" stroke="#000" stroke-width="1.8"/></svg></div>
<div class="a t11" style="left:11px;top:756px;width:52px;height:13px;transform-origin:0 0;transform:rotate(-90deg);color:#505050;font-size:10.6px">Терминал</div>
<div class="a" style="left:24px;top:601px;width:1564px;height:136px;background:#fff"></div>
<div class="a" style="left:24px;top:601px;width:1px;height:157px;background:#a0a0a0"></div>
<div class="a" style="left:23px;top:597px;width:1px;height:161px;background:#f0f0f0"></div>
<div class="a" style="left:24px;top:601px;width:1564px;height:1px;background:#a0a0a0"></div>
<div class="a" style="left:25px;top:602px;width:1562px;height:23px;background:linear-gradient(#fff 0,#fff 9px,#f4f5f9 9.5px,#f0f1f5 100%)"></div>
<div class="a" style="left:25px;top:624px;width:1562px;height:1px;background:#d5d5d5"></div>
<div class="a" style="left:178px;top:602px;width:3px;height:22px;background:#fff"></div>
<div class="a" style="left:179px;top:602px;width:1px;height:22px;background:#dfe0e6"></div>
<div class="a" style="left:440px;top:602px;width:3px;height:22px;background:#fff"></div>
<div class="a" style="left:441px;top:602px;width:1px;height:22px;background:#dfe0e6"></div>
<div class="a" style="left:547px;top:602px;width:3px;height:22px;background:#fff"></div>
<div class="a" style="left:548px;top:602px;width:1px;height:22px;background:#dfe0e6"></div>
<div class="a" style="left:630px;top:602px;width:3px;height:22px;background:#fff"></div>
<div class="a" style="left:631px;top:602px;width:1px;height:22px;background:#dfe0e6"></div>
<div class="a" style="left:737px;top:602px;width:3px;height:22px;background:#fff"></div>
<div class="a" style="left:738px;top:602px;width:1px;height:22px;background:#dfe0e6"></div>
<div class="a" style="left:856px;top:602px;width:3px;height:22px;background:#fff"></div>
<div class="a" style="left:857px;top:602px;width:1px;height:22px;background:#dfe0e6"></div>
<div class="a" style="left:975px;top:602px;width:3px;height:22px;background:#fff"></div>
<div class="a" style="left:976px;top:602px;width:1px;height:22px;background:#dfe0e6"></div>
<div class="a" style="left:1094px;top:602px;width:3px;height:22px;background:#fff"></div>
<div class="a" style="left:1095px;top:602px;width:1px;height:22px;background:#dfe0e6"></div>
<div class="a" style="left:1213px;top:602px;width:3px;height:22px;background:#fff"></div>
<div class="a" style="left:1214px;top:602px;width:1px;height:22px;background:#dfe0e6"></div>
<div class="a" style="left:1332px;top:602px;width:3px;height:22px;background:#fff"></div>
<div class="a" style="left:1333px;top:602px;width:1px;height:22px;background:#dfe0e6"></div>
<div class="a" style="left:1451px;top:602px;width:3px;height:22px;background:#fff"></div>
<div class="a" style="left:1452px;top:602px;width:1px;height:22px;background:#dfe0e6"></div>
<div class="a" style="left:1586px;top:602px;width:1px;height:22px;background:#e2e3ea"></div>
<div class="a" style="left:25px;top:626px;width:1562px;height:1px;background:#d0d0d0"></div>
<div class="a" style="left:25px;top:627px;width:1562px;height:19px;background:#fff"></div>
<div class="a" style="left:25px;top:646px;width:1562px;height:1px;background:#d0d0d0"></div>
<div class="a" style="left:25px;top:647px;width:1562px;height:19px;background:#ebebeb"></div>
<div class="a" style="left:25px;top:666px;width:1562px;height:21px;background:#c8c8c8"></div>
<div class="a" style="left:25px;top:687px;width:1562px;height:18px;background:#ebebeb"></div>
<div class="a" style="left:25px;top:705px;width:1562px;height:1px;background:#c4c4c4"></div>
<div class="a" style="left:178px;top:627px;width:1px;height:39px;background:#d0d0d0"></div>
<div class="a" style="left:440px;top:627px;width:1px;height:39px;background:#d0d0d0"></div>
<div class="a" style="left:547px;top:627px;width:1px;height:39px;background:#d0d0d0"></div>
<div class="a" style="left:630px;top:627px;width:1px;height:39px;background:#d0d0d0"></div>
<div class="a" style="left:737px;top:627px;width:1px;height:39px;background:#d0d0d0"></div>
<div class="a" style="left:856px;top:627px;width:1px;height:39px;background:#d0d0d0"></div>
<div class="a" style="left:975px;top:627px;width:1px;height:39px;background:#d0d0d0"></div>
<div class="a" style="left:1094px;top:627px;width:1px;height:39px;background:#d0d0d0"></div>
<div class="a" style="left:1213px;top:627px;width:1px;height:39px;background:#d0d0d0"></div>
<div class="a" style="left:1332px;top:627px;width:1px;height:39px;background:#d0d0d0"></div>
<div class="a" style="left:1451px;top:627px;width:1px;height:39px;background:#d0d0d0"></div>
<div class="a" style="left:178px;top:687px;width:1px;height:18px;background:#d0d0d0"></div>
<div class="a" style="left:440px;top:687px;width:1px;height:18px;background:#d0d0d0"></div>
<div class="a" style="left:547px;top:687px;width:1px;height:18px;background:#d0d0d0"></div>
<div class="a" style="left:630px;top:687px;width:1px;height:18px;background:#d0d0d0"></div>
<div class="a" style="left:737px;top:687px;width:1px;height:18px;background:#d0d0d0"></div>
<div class="a" style="left:856px;top:687px;width:1px;height:18px;background:#d0d0d0"></div>
<div class="a" style="left:975px;top:687px;width:1px;height:18px;background:#d0d0d0"></div>
<div class="a" style="left:1094px;top:687px;width:1px;height:18px;background:#d0d0d0"></div>
<div class="a" style="left:1213px;top:687px;width:1px;height:18px;background:#d0d0d0"></div>
<div class="a" style="left:1451px;top:687px;width:1px;height:18px;background:#d0d0d0"></div>
<div class="a" style="left:1587px;top:601px;width:1px;height:105px;background:#e0e0e0"></div>
<div class="a hd" style="left:31.5px;top:607px">Ордер</div>
<svg width="12" height="10" style="left:76px;top:609px" shape-rendering="auto"><path d="M5.8 2 L9.5 8.5 L1.8 8.5" stroke="#ffffff" fill="none"/><path d="M1.8 8.8 L5.8 1.8" stroke="#505050" fill="none"/></svg>
<div class="a hd r" style="left:179px;width:257px;top:607px">Время</div>
<div class="a hd r" style="left:441px;width:102px;top:607px">Тип</div>
<div class="a hd r" style="left:548px;width:78px;top:607px">Объём</div>
<div class="a hd r" style="left:631px;width:102px;top:607px">Символ</div>
<div class="a hd r" style="left:738px;width:114px;top:607px">Цена</div>
<div class="a hd r" style="left:857px;width:114px;top:607px">S / L</div>
<div class="a hd r" style="left:976px;width:114px;top:607px">T / P</div>
<div class="a hd r" style="left:1095px;width:114px;top:607px">Цена</div>
<div class="a hd r" style="left:1214px;width:114px;top:607px">Комиссия</div>
<div class="a hd r" style="left:1333px;width:114px;top:607px">Своп</div>
<div class="a hd r" style="left:1452px;width:129px;top:607px">Прибыль</div>
<div class="a c" style="left:49.5px;top:629px">94882001</div>
<div class="a c r" style="left:179px;width:259px;top:629px">2012.05.23 11:46</div>
<div class="a c r" style="left:441px;width:104px;top:629px">buy</div>
<div class="a c r" style="left:548px;width:80px;top:629px">0.02</div>
<div class="a c r" style="left:631px;width:104px;top:629px">eurusd</div>
<div class="a c r" style="left:738px;width:116px;top:629px">1.2645</div>
<div class="a c r" style="left:857px;width:116px;top:629px">0.0000</div>
<div class="a c r" style="left:976px;width:116px;top:629px">0.0000</div>
<div class="a c r" style="left:1095px;width:116px;top:629px">1.2503</div>
<div class="a c r" style="left:1214px;width:116px;top:629px">0.00</div>
<div class="a c r" style="left:1333px;width:116px;top:629px">-0.63</div>
<div class="a c r" style="left:1452px;width:130px;top:629px">-28.40</div>
<div class="a c" style="left:49.5px;top:649px">94950011</div>
<div class="a c r" style="left:179px;width:259px;top:649px">2012.05.25 15:19</div>
<div class="a c r" style="left:441px;width:104px;top:649px">buy</div>
<div class="a c r" style="left:548px;width:80px;top:649px">0.02</div>
<div class="a c r" style="left:631px;width:104px;top:649px">eurusd</div>
<div class="a c r" style="left:738px;width:116px;top:649px">1.2500</div>
<div class="a c r" style="left:857px;width:116px;top:649px">0.0000</div>
<div class="a c r" style="left:976px;width:116px;top:649px">0.0000</div>
<div class="a c r" style="left:1095px;width:116px;top:649px">1.2503</div>
<div class="a c r" style="left:1214px;width:116px;top:649px">0.00</div>
<div class="a c r" style="left:1333px;width:116px;top:649px">-0.44</div>
<div class="a c r" style="left:1452px;width:130px;top:649px">0.60</div>
<div class="a c" style="left:49.5px;top:689px">96044685</div>
<div class="a c r" style="left:179px;width:259px;top:689px">2012.06.04 20:32</div>
<div class="a c r" style="left:441px;width:104px;top:689px">buy limit</div>
<div class="a c r" style="left:548px;width:80px;top:689px">0.02</div>
<div class="a c r" style="left:631px;width:104px;top:689px">eurusd</div>
<div class="a c r" style="left:738px;width:116px;top:689px">1.2400</div>
<div class="a c r" style="left:857px;width:116px;top:689px">0.0000</div>
<div class="a c r" style="left:976px;width:116px;top:689px">0.0000</div>
<div class="a c r" style="left:1095px;width:116px;top:689px">1.2505</div>
<div class="a c" style="left:50px;top:669px;font-weight:bold;font-size:10.64px">Баланс: 2 596.11  Средства: 2 567.24  Залог: 10.06  Свободно: 2 557.18  Уровень: 25524.36%</div>
<div class="a c r" style="left:1452px;width:130px;top:669px;font-weight:bold">-28.87</div>
<svg width="16" height="18" style="left:27px;top:628px" shape-rendering="auto"><path d="M1.8 1.5 H8 L11 4.5 V14.2 H1.8 Z" fill="#fff" stroke="#606060" stroke-linejoin="round"/><path d="M8 1.5 V4.5 H11" fill="none" stroke="#808080"/><path d="M2.5 15.2 H12 V5" fill="none" stroke="#c8c8c8"/><circle cx="11.7" cy="11.6" r="3.3" fill="#1e8fe6"/><circle cx="10.9" cy="10.7" r="1.4" fill="#6cc0ff"/></svg>
<svg width="16" height="18" style="left:27px;top:648px" shape-rendering="auto"><path d="M1.8 1.5 H8 L11 4.5 V14.2 H1.8 Z" fill="#fff" stroke="#606060" stroke-linejoin="round"/><path d="M8 1.5 V4.5 H11" fill="none" stroke="#808080"/><path d="M2.5 15.2 H12 V5" fill="none" stroke="#c8c8c8"/><circle cx="11.7" cy="11.6" r="3.3" fill="#1e8fe6"/><circle cx="10.9" cy="10.7" r="1.4" fill="#6cc0ff"/></svg>
<svg width="16" height="18" style="left:27px;top:688px" shape-rendering="auto"><path d="M1.8 1.5 H8 L11 4.5 V14.2 H1.8 Z" fill="#fff" stroke="#606060" stroke-linejoin="round"/><path d="M8 1.5 V4.5 H11" fill="none" stroke="#808080"/><path d="M2.5 15.2 H12 V5" fill="none" stroke="#c8c8c8"/><circle cx="11.7" cy="11.6" r="3.3" fill="#1e8fe6"/><circle cx="10.9" cy="10.7" r="1.4" fill="#6cc0ff"/></svg>
<svg width="16" height="18" style="left:27px;top:668px" shape-rendering="auto"><rect x="1.5" y="1.5" width="10" height="13" rx="1.5" fill="#fff" stroke="#808080"/><path d="M3 15.5 H12.5 V4" fill="none" stroke="#b0b0b0"/><path d="M5.3 4.5 H7.9 V8 H10 L6.6 12 L3.2 8 H5.3 Z" fill="#e23a10" stroke="#b02000" stroke-width="0.5"/></svg>
<div class="a" style="left:24px;top:737px;width:1563px;height:1px;background:#000"></div>
<div class="a" style="left:24px;top:738px;width:1566px;height:20px;background:#f0f0f0"></div>
<div class="a" style="left:27px;top:737px;width:67px;height:18px;background:#fff;border-left:1px solid #000;border-right:2px solid #000;border-bottom:2px solid #000"></div>
<div class="a tt" style="left:36.5px;top:740px">Торговля</div>
<div class="a tt" style="left:103px;top:740px;color:#707070">История Счета</div>
<div class="a tt" style="left:199px;top:740px;color:#707070">Новости</div>
<div class="a tt" style="left:261.5px;top:740px;color:#707070">Сигналы</div>
<div class="a tt" style="left:325px;top:740px;color:#707070">Почтовый ящик</div>
<div class="a tt" style="left:426px;top:740px;color:#707070">Журнал</div>
<div class="a" style="left:190px;top:741px;width:1px;height:12px;background:#606060"></div>
<div class="a" style="left:252px;top:741px;width:1px;height:12px;background:#606060"></div>
<div class="a" style="left:316px;top:741px;width:1px;height:12px;background:#606060"></div>
<div class="a" style="left:417px;top:741px;width:1px;height:12px;background:#606060"></div>
<div class="a" style="left:477px;top:741px;width:1px;height:12px;background:#606060"></div>
<div class="a" style="left:9px;top:757px;width:1581px;height:1px;background:#fbfbfb"></div>
<div class="a" style="left:9px;top:758px;width:1581px;height:2px;background:#f0f0f0"></div>
</body></html>
